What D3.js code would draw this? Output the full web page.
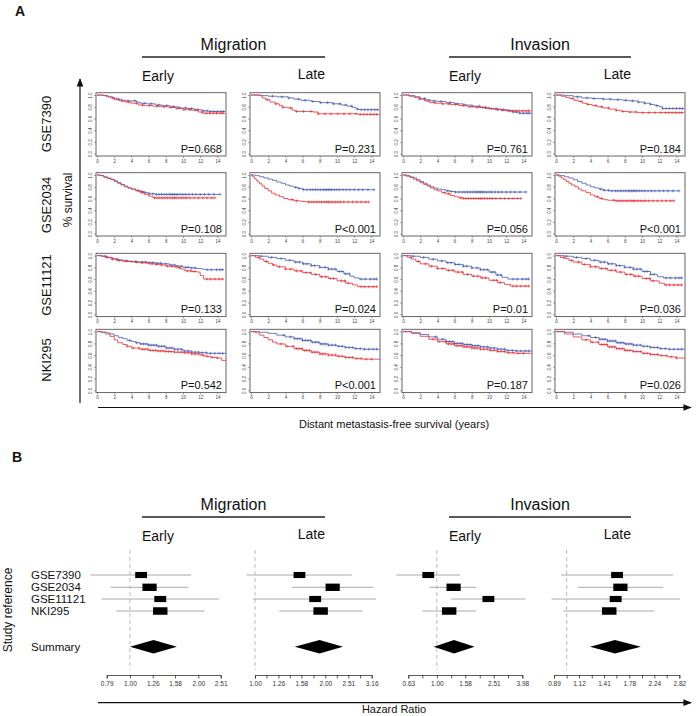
<!DOCTYPE html>
<html><head><meta charset="utf-8">
<script src="https://cdn.jsdelivr.net/npm/d3@7"></script>
<style>body{margin:0;background:#fff} svg{display:block;font-family:"Liberation Sans",Arial,sans-serif}</style>
</head><body><svg id="c" width="696" height="716"></svg>
<script>
// ---------------- DATA ----------------
const studies = ["GSE7390", "GSE2034", "GSE11121", "NKI295"];
const studySizes = [198, 286, 200, 295];
const assays = ["Migration", "Invasion"];
const phases = ["Early", "Late", "Early", "Late"];
const pValues = [
  ["P=0.668", "P=0.231", "P=0.761", "P=0.184"],
  ["P=0.108", "P<0.001", "P=0.056", "P<0.001"],
  ["P=0.133", "P=0.024", "P=0.01", "P=0.036"],
  ["P=0.542", "P<0.001", "P=0.187", "P=0.026"]
];
const kmXTicks = [0, 2, 4, 6, 8, 10, 12, 14];
const kmYTicks = [0, 0.2, 0.4, 0.6, 0.8, 1.0];
// survival step points [time (years), survival]
const kmBlue = [
  [
    [[0,1],[0.8,0.99],[1.3,0.97],[1.8,0.95],[2.3,0.93],[2.9,0.91],[3.4,0.9],[4.6,0.88],[5.0,0.86],[5.8,0.85],[6.8,0.83],[7.6,0.82],[8.5,0.8],[9.5,0.78],[10.5,0.77],[11.3,0.75],[12.2,0.73],[13.0,0.72],[14.9,0.72]],
    [[0,1],[1.2,0.99],[2.0,0.98],[3.0,0.97],[4.3,0.95],[5.0,0.93],[5.8,0.91],[7.0,0.89],[8.0,0.87],[9.5,0.85],[10.5,0.83],[11.2,0.81],[11.8,0.79],[12.2,0.76],[12.6,0.75],[14.9,0.75]],
    [[0,1],[0.8,0.99],[1.4,0.97],[2.0,0.94],[2.6,0.92],[3.2,0.9],[4.0,0.89],[5.0,0.87],[6.0,0.85],[7.0,0.83],[8.0,0.81],[9.0,0.79],[10.0,0.77],[11.0,0.75],[12.0,0.73],[12.8,0.71],[13.5,0.69],[14.9,0.69]],
    [[0,1],[1.0,0.99],[2.0,0.97],[3.0,0.95],[4.2,0.94],[5.5,0.93],[6.5,0.92],[7.8,0.91],[8.5,0.9],[9.5,0.88],[10.3,0.86],[11.0,0.84],[11.5,0.82],[12.0,0.8],[12.4,0.77],[14.9,0.77]]
  ],
  [
    [[0,1],[0.4,0.99],[0.8,0.97],[1.2,0.95],[1.6,0.93],[2.0,0.9],[2.4,0.87],[2.8,0.84],[3.2,0.81],[3.6,0.78],[4.0,0.76],[4.5,0.74],[5.0,0.72],[5.5,0.7],[6.0,0.68],[6.8,0.67],[14.3,0.67]],
    [[0,1],[0.5,0.99],[1.0,0.97],[1.5,0.95],[2.0,0.93],[2.5,0.91],[3.0,0.88],[3.5,0.86],[4.0,0.83],[4.5,0.81],[5.0,0.79],[5.5,0.77],[6.0,0.75],[14.3,0.75]],
    [[0,1],[0.4,0.99],[0.8,0.97],[1.2,0.95],[1.6,0.92],[2.0,0.89],[2.4,0.86],[2.8,0.83],[3.2,0.8],[3.6,0.78],[4.0,0.76],[4.5,0.75],[5.0,0.73],[5.5,0.72],[6.0,0.71],[14.3,0.71]],
    [[0,1],[0.5,0.99],[1.0,0.97],[1.5,0.95],[2.0,0.92],[2.5,0.89],[3.0,0.86],[3.5,0.83],[4.0,0.8],[4.5,0.78],[5.0,0.76],[5.5,0.74],[6.2,0.73],[14.3,0.73]]
  ],
  [
    [[0,1],[0.6,0.99],[1.2,0.97],[1.8,0.95],[2.4,0.93],[3.0,0.91],[3.8,0.9],[4.8,0.89],[5.8,0.88],[6.8,0.87],[7.6,0.86],[8.4,0.84],[9.2,0.82],[10.0,0.8],[10.8,0.79],[11.6,0.78],[12.2,0.77],[12.6,0.76],[14.7,0.76]],
    [[0,1],[1.0,0.99],[2.0,0.97],[3.0,0.95],[4.0,0.92],[5.0,0.89],[6.0,0.86],[7.0,0.83],[8.0,0.8],[9.0,0.77],[10.0,0.73],[10.8,0.69],[11.5,0.65],[12.0,0.62],[12.6,0.6],[14.7,0.6]],
    [[0,1],[1.0,0.99],[2.0,0.97],[3.0,0.94],[4.0,0.91],[5.0,0.88],[6.0,0.85],[7.0,0.82],[8.0,0.79],[9.0,0.76],[10.0,0.72],[10.8,0.67],[11.5,0.63],[12.2,0.6],[14.7,0.6]],
    [[0,1],[1.0,0.99],[2.0,0.97],[3.0,0.95],[4.0,0.92],[5.0,0.89],[6.0,0.86],[7.0,0.83],[8.0,0.8],[9.0,0.77],[10.0,0.73],[11.0,0.68],[11.8,0.64],[12.5,0.62],[14.7,0.62]]
  ],
  [
    [[0,1],[0.5,0.99],[1.0,0.98],[1.5,0.96],[2.0,0.93],[2.5,0.9],[3.0,0.88],[3.5,0.85],[4.0,0.83],[4.5,0.81],[5.0,0.79],[6.0,0.77],[7.0,0.75],[8.0,0.72],[9.0,0.7],[10.0,0.67],[11.0,0.65],[12.0,0.64],[12.8,0.63],[15.0,0.63]],
    [[0,1],[1.0,0.99],[2.0,0.97],[3.0,0.94],[4.0,0.91],[5.0,0.88],[6.0,0.85],[7.0,0.82],[8.0,0.79],[9.0,0.77],[10.0,0.75],[11.0,0.73],[12.0,0.71],[13.0,0.7],[15.0,0.7]],
    [[0,1],[1.0,0.98],[2.0,0.95],[3.0,0.91],[4.0,0.87],[5.0,0.83],[6.0,0.8],[7.0,0.78],[8.0,0.76],[9.0,0.74],[10.0,0.72],[11.0,0.7],[12.0,0.68],[13.0,0.67],[15.0,0.67]],
    [[0,1],[1.0,0.99],[2.0,0.96],[3.0,0.93],[4.0,0.9],[5.0,0.87],[6.0,0.84],[7.0,0.81],[8.0,0.79],[9.0,0.77],[10.0,0.75],[11.0,0.73],[12.0,0.71],[13.0,0.7],[15.0,0.7]]
  ]
];
const kmRed = [
  [
    [[0,1],[0.6,0.99],[1.1,0.97],[1.6,0.95],[2.0,0.92],[2.6,0.9],[3.2,0.88],[4.0,0.86],[4.8,0.83],[5.4,0.82],[6.5,0.81],[7.5,0.8],[8.3,0.79],[9.2,0.77],[10.0,0.75],[11.0,0.74],[11.8,0.71],[12.3,0.69],[14.9,0.69]],
    [[0,1],[0.9,0.99],[1.3,0.95],[1.7,0.92],[2.2,0.88],[2.8,0.85],[3.3,0.82],[3.7,0.79],[4.3,0.78],[4.8,0.74],[5.2,0.72],[7.2,0.71],[7.8,0.68],[12.3,0.68],[12.5,0.67],[14.9,0.67]],
    [[0,1],[0.7,0.98],[1.3,0.96],[1.9,0.93],[2.5,0.9],[3.1,0.87],[3.8,0.86],[4.6,0.85],[5.5,0.84],[6.5,0.82],[7.5,0.8],[8.5,0.79],[9.5,0.77],[10.5,0.76],[11.5,0.74],[12.5,0.73],[14.9,0.73]],
    [[0,1],[0.6,0.98],[1.1,0.96],[1.6,0.94],[2.1,0.91],[2.6,0.89],[3.1,0.86],[3.6,0.84],[4.2,0.82],[4.8,0.8],[5.4,0.78],[6.2,0.76],[7.0,0.74],[7.6,0.72],[8.4,0.71],[9.5,0.7],[14.9,0.7]]
  ],
  [
    [[0,1],[0.4,0.99],[0.8,0.96],[1.2,0.94],[1.6,0.92],[2.0,0.89],[2.4,0.86],[2.8,0.83],[3.2,0.8],[3.6,0.78],[4.0,0.76],[4.5,0.73],[5.0,0.7],[5.5,0.67],[6.0,0.64],[6.5,0.61],[13.7,0.61]],
    [[0,1],[0.2,0.97],[0.4,0.94],[0.6,0.91],[0.8,0.88],[1.0,0.85],[1.3,0.81],[1.6,0.77],[2.0,0.73],[2.4,0.69],[2.8,0.66],[3.3,0.63],[3.8,0.6],[4.3,0.58],[5.0,0.56],[5.8,0.55],[6.5,0.54],[13.7,0.54]],
    [[0,1],[0.4,0.98],[0.8,0.96],[1.2,0.93],[1.6,0.9],[2.0,0.87],[2.4,0.84],[2.8,0.81],[3.2,0.78],[3.6,0.75],[4.0,0.73],[4.5,0.7],[5.0,0.68],[5.5,0.65],[6.0,0.63],[6.5,0.61],[7.0,0.6],[13.7,0.6]],
    [[0,1],[0.3,0.98],[0.6,0.95],[0.9,0.92],[1.2,0.89],[1.5,0.86],[1.8,0.83],[2.2,0.8],[2.6,0.76],[3.0,0.73],[3.5,0.7],[4.0,0.66],[4.5,0.63],[5.0,0.6],[5.5,0.58],[6.0,0.57],[7.0,0.56],[13.7,0.56]]
  ],
  [
    [[0,1],[0.5,0.99],[1.0,0.97],[1.6,0.94],[2.2,0.92],[2.8,0.91],[3.4,0.9],[4.2,0.89],[5.0,0.88],[6.0,0.86],[6.8,0.85],[7.4,0.84],[8.0,0.82],[8.8,0.81],[9.4,0.79],[9.8,0.77],[10.2,0.74],[11.0,0.73],[11.6,0.72],[12.0,0.66],[12.4,0.6],[14.7,0.6]],
    [[0,1],[0.5,0.97],[1.0,0.94],[1.5,0.9],[2.0,0.87],[2.5,0.84],[3.0,0.81],[4.0,0.77],[5.0,0.74],[6.0,0.71],[7.0,0.68],[8.0,0.64],[9.0,0.61],[10.0,0.57],[11.0,0.53],[11.8,0.5],[12.4,0.47],[14.7,0.47]],
    [[0,1],[0.5,0.97],[1.0,0.94],[1.5,0.9],[2.0,0.86],[3.0,0.82],[4.0,0.78],[5.0,0.75],[6.0,0.72],[7.0,0.68],[8.0,0.65],[9.0,0.62],[10.0,0.58],[11.0,0.54],[11.8,0.51],[12.5,0.48],[14.7,0.48]],
    [[0,1],[0.5,0.97],[1.0,0.95],[1.5,0.92],[2.0,0.89],[3.0,0.85],[4.0,0.81],[5.0,0.78],[6.0,0.75],[7.0,0.72],[8.0,0.68],[9.0,0.65],[10.0,0.61],[11.0,0.57],[12.0,0.53],[12.6,0.5],[14.7,0.5]]
  ],
  [
    [[0,1],[0.5,0.99],[1.0,0.96],[1.5,0.92],[2.0,0.86],[2.4,0.81],[3.0,0.78],[3.5,0.75],[4.0,0.72],[5.0,0.7],[6.0,0.68],[7.0,0.67],[8.0,0.66],[9.0,0.65],[10.0,0.64],[11.0,0.62],[12.0,0.6],[12.5,0.58],[13.2,0.56],[14.0,0.55],[14.5,0.51],[15.0,0.51]],
    [[0,1],[0.5,0.98],[1.0,0.94],[1.5,0.9],[2.0,0.86],[2.5,0.82],[3.0,0.79],[4.0,0.75],[5.0,0.71],[6.0,0.68],[7.0,0.65],[8.0,0.62],[9.0,0.6],[10.0,0.58],[11.0,0.56],[12.0,0.54],[13.0,0.53],[15.0,0.53]],
    [[0,1],[1.0,0.97],[2.0,0.92],[3.0,0.87],[4.0,0.83],[5.0,0.79],[6.0,0.76],[7.0,0.74],[8.0,0.72],[9.0,0.7],[10.0,0.68],[11.0,0.66],[12.0,0.64],[13.0,0.63],[15.0,0.63]],
    [[0,1],[1.0,0.96],[2.0,0.91],[3.0,0.86],[4.0,0.82],[5.0,0.78],[6.0,0.74],[7.0,0.71],[8.0,0.68],[9.0,0.66],[10.0,0.63],[11.0,0.61],[12.0,0.59],[13.0,0.57],[14.0,0.55],[15.0,0.55]]
  ]
];
// censoring times per study (years)
const censorBlue = [
  [2.5,3.6,4.4,5.5,6.3,7.2,8.1,8.9,9.6,10.3,11.0,11.7,12.4,12.8,13.2,13.6,14.0,14.4,14.7],
  [5.2,5.6,6.1,6.5,6.9,7.2,7.5,7.8,8.1,8.4,8.6,8.8,9.0,9.2,9.4,9.7,10.0,10.3,10.7,11.1,11.5,12.0,12.5,13.0,13.6,14.3],
  [1.2,2.4,3.5,4.5,5.2,5.6,6.1,6.5,7.0,7.4,8.0,8.6,9.0,9.4,9.8,10.3,10.6,11.0,11.4,12.8,13.3,13.9,14.3,14.6],
  [3.8,4.6,5.1,5.4,5.7,6.0,6.3,6.6,6.9,7.2,7.5,7.8,8.1,8.4,8.7,9.0,9.4,9.8,10.2,10.6,11.0,11.4,11.8,12.2,12.7,13.2,13.7,14.2,14.6]
];
const censorRed = [
  [1.9,2.9,3.7,4.6,5.3,6.1,7.0,7.8,8.6,9.3,10.1,10.8,11.5,12.2,12.7,13.1,13.5,13.9,14.3,14.6],
  [4.8,5.3,6.7,7.0,7.3,7.6,7.9,8.2,8.5,8.8,9.0,9.2,9.5,9.8,10.1,10.4,10.8,11.3,11.8,12.3,12.8,13.3,13.7],
  [0.9,1.8,2.6,3.3,4.0,4.6,5.3,5.8,6.4,6.9,7.5,8.2,8.7,9.2,9.6,10.5,10.9,11.3,12.8,13.2,13.7,14.2,14.6],
  [3.5,4.2,4.9,5.3,5.6,5.9,6.2,6.5,6.8,7.1,7.4,7.7,8.0,8.3,8.6,9.0,9.4,9.8,10.2,10.6,11.0,11.4,11.8,12.3,12.8,13.4,14.0]
];
// forest plot: hazard ratios per column, one value per study
const hrValues = [
  [1.12, 1.22, 1.36, 1.36],
  [1.55, 2.15, 1.81, 1.91],
  [0.87, 1.31, 2.30, 1.22],
  [1.59, 1.64, 1.57, 1.48]
];
const hrLower = [
  [0.67, 0.82, 0.75, 0.87],
  [0.92, 1.44, 0.98, 1.27],
  [0.52, 0.89, 1.26, 0.79],
  [0.95, 1.11, 0.87, 0.97]
];
const hrUpper = [
  [1.86, 1.81, 2.47, 2.13],
  [2.60, 3.21, 3.30, 2.89],
  [1.46, 1.89, 4.19, 1.89],
  [2.66, 2.43, 2.84, 2.24]
];
const summaryHR = [[1.27, 1.00, 1.61], [1.89, 1.48, 2.38], [1.32, 0.95, 1.84], [1.56, 1.24, 1.98]];
const forestTicks = [
  [0.79, 1.00, 1.26, 1.58, 2.00, 2.51],
  [1.00, 1.12, 1.26, 1.41, 1.58, 1.78, 2.00, 2.24, 2.51, 2.82, 3.16],
  [0.63, 0.79, 1.00, 1.26, 1.58, 2.00, 2.51, 3.16, 3.98],
  [0.89, 1.00, 1.12, 1.26, 1.41, 1.58, 1.78, 2.00, 2.24, 2.51, 2.82]
];
const forestLabels = [
  ["0.79", "1.00", "1.26", "1.58", "2.00", "2.51"],
  ["1.00", "1.26", "1.58", "2.00", "2.51", "3.16"],
  ["0.63", "1.00", "1.58", "2.51", "3.98"],
  ["0.89", "1.12", "1.41", "1.78", "2.24", "2.82"]
];

// ---------------- LAYOUT ----------------
const svg = d3.select("#c");
const BLUE = "#4a5db5", RED = "#e8323b";
const colX = [96, 250, 402, 555], boxW = 130;
const rowY = [92.7, 172.7, 253.3, 329.3], boxH = 63.3;

svg.append("defs").append("marker").attr("id", "ah").attr("viewBox", "0 0 10 10")
  .attr("refX", 9).attr("refY", 5).attr("markerWidth", 7).attr("markerHeight", 7)
  .attr("orient", "auto").append("path").attr("d", "M0,1 L10,5 L0,9 Z").attr("fill", "#111");

function txt(x, y, s, size, opts = {}) {
  const t = svg.append("text").attr("x", x).attr("y", y).text(s)
    .attr("font-size", size).attr("fill", opts.fill || "#111")
    .attr("text-anchor", opts.anchor || "start");
  if (opts.weight) t.attr("font-weight", opts.weight);
  if (opts.rotate) t.attr("transform", `rotate(-90,${x},${y})`);
  return t;
}

function headers(yTop) {
  txt(233.5, yTop, assays[0], 16, {anchor: "middle"});
  txt(540, yTop, assays[1], 16, {anchor: "middle"});
  svg.append("line").attr("x1", 142).attr("x2", 325).attr("y1", yTop + 7).attr("y2", yTop + 7).attr("stroke", "#222").attr("stroke-width", 1.3);
  svg.append("line").attr("x1", 449).attr("x2", 631).attr("y1", yTop + 7).attr("y2", yTop + 7).attr("stroke", "#222").attr("stroke-width", 1.3);
  txt(142, yTop + 31, phases[0], 14);
  txt(325, yTop + 29, phases[1], 14, {anchor: "end"});
  txt(449, yTop + 31, phases[2], 14);
  txt(631, yTop + 29, phases[3], 14, {anchor: "end"});
}

txt(15, 16, "A", 14, {weight: "bold"});
headers(50);

const rowLabelY = [124, 205, 285, 360];
studies.forEach((s, i) => txt(51, rowLabelY[i], s, 13, {anchor: "middle", rotate: true}));
txt(72, 200, "% survival", 12, {anchor: "middle", rotate: true});
svg.append("line").attr("x1", 80).attr("x2", 80).attr("y1", 403).attr("y2", 79)
  .attr("stroke", "#111").attr("stroke-width", 1.2).attr("marker-end", "url(#ah)");
svg.append("line").attr("x1", 98).attr("x2", 691).attr("y1", 407.5).attr("y2", 407.5)
  .attr("stroke", "#111").attr("stroke-width", 1.2).attr("marker-end", "url(#ah)");
txt(394, 428, "Distant metastasis-free survival (years)", 11, {anchor: "middle"});

function survAt(steps, t) {
  let s = 1;
  for (const p of steps) { if (p[0] <= t) s = p[1]; else break; }
  return s;
}
for (let r = 0; r < 4; r++) {
  for (let c = 0; c < 4; c++) {
    const L = colX[c], T = rowY[r];
    const x = d3.scaleLinear().domain([0, 15]).range([L + 1, L + boxW]);
    const y = d3.scaleLinear().domain([-0.04, 1.04]).range([T + boxH, T]);
    const g = svg.append("g");
    const xa = g.append("g").attr("transform", `translate(0,${T + boxH})`)
      .call(d3.axisBottom(x).tickValues(kmXTicks).tickSize(2).tickPadding(1.5));
    const ya = g.append("g").attr("transform", `translate(${L},0)`)
      .call(d3.axisLeft(y).tickValues(kmYTicks).tickSize(2).tickPadding(1.5).tickFormat(d3.format(".1f")));
    [xa, ya].forEach(a => {
      a.select(".domain").remove();
      a.selectAll("line").attr("stroke", "#555").attr("stroke-width", 0.5);
      a.selectAll("text").attr("font-size", 4.5).attr("fill", "#444").attr("font-family", "Liberation Sans, Arial");
    });
    ya.selectAll("text").attr("text-anchor", "middle").attr("dy", 0)
      .attr("x", 0).attr("y", -3.8).attr("transform", "rotate(-90)");
    g.append("rect").attr("x", L).attr("y", T).attr("width", boxW).attr("height", boxH)
      .attr("fill", "none").attr("stroke", "#555").attr("stroke-width", 0.9);
    const line = d3.line().x(d => x(d[0])).y(d => y(d[1])).curve(d3.curveStepAfter);
    [[kmBlue[r][c], censorBlue[r], BLUE], [kmRed[r][c], censorRed[r], RED]].forEach(([steps, cens, col]) => {
      g.append("path").attr("d", line(steps)).attr("fill", "none").attr("stroke", col).attr("stroke-width", 0.8);
      const tEnd = steps[steps.length - 1][0];
      cens.filter(t => t <= tEnd).forEach(t => {
        const cx = x(t), cy = y(survAt(steps, t));
        g.append("path").attr("d", `M${cx - 1.5},${cy}H${cx + 1.5}M${cx},${cy - 1.5}V${cy + 1.5}`)
          .attr("stroke", col).attr("stroke-width", 0.6);
      });
    });
    txt(L + boxW - 4, T + boxH - 3.5, pValues[r][c], 11, {anchor: "end"});
  }
}

// ---------------- PANEL B ----------------
txt(12, 462, "B", 14, {weight: "bold"});
headers(510);
const fRowY = [575, 587.3, 599, 611];
const sumY = 646.7;
studies.forEach((s, i) => txt(31, fRowY[i] + 4, s, 11.5));
txt(31, sumY + 4, "Summary", 11.5);
txt(12, 610, "Study reference", 12, {anchor: "middle", rotate: true});

const fRange = [[106.7, 220.7], [255, 371.7], [408.3, 522.3], [554, 679.3]];
const axisY = 675;
for (let c = 0; c < 4; c++) {
  const tk = forestTicks[c];
  const x = d3.scaleLog().domain([tk[0], tk[tk.length - 1]]).range(fRange[c]);
  const g = svg.append("g");
  g.append("line").attr("x1", x(1)).attr("x2", x(1)).attr("y1", 550).attr("y2", 670)
    .attr("stroke", "#bbb").attr("stroke-width", 1).attr("stroke-dasharray", "4,3");
  for (let i = 0; i < 4; i++) {
    g.append("line").attr("x1", x(hrLower[c][i])).attr("x2", x(hrUpper[c][i]))
      .attr("y1", fRowY[i]).attr("y2", fRowY[i]).attr("stroke", "#aaa").attr("stroke-width", 1);
  }
  for (let i = 0; i < 4; i++) {
    const w = Math.sqrt(studySizes[i]) * 0.84, h = w * 0.52;
    g.append("rect").attr("x", x(hrValues[c][i]) - w / 2).attr("y", fRowY[i] - h / 2)
      .attr("width", w).attr("height", h).attr("fill", "#000");
  }
  const [m, lo, hi] = summaryHR[c];
  g.append("path").attr("d", `M${x(lo)},${sumY}L${x(m)},${sumY - 6.7}L${x(hi)},${sumY}L${x(m)},${sumY + 6.7}Z`).attr("fill", "#000");
  const ax = g.append("g").attr("transform", `translate(0,${axisY})`)
    .call(d3.axisBottom(x).tickValues(tk).tickSize(3.5).tickPadding(3)
      .tickFormat(d => { const s = d.toFixed(2); return forestLabels[c].includes(s) ? s : ""; }));
  ax.select(".domain").attr("stroke", "#333").attr("stroke-width", 0.8);
  ax.selectAll("line").attr("stroke", "#333").attr("stroke-width", 0.8);
  ax.selectAll("text").attr("font-size", 6.5).attr("fill", "#333").attr("font-family", "Liberation Sans, Arial");
}
svg.append("line").attr("x1", 98).attr("x2", 691).attr("y1", 702.7).attr("y2", 702.7)
  .attr("stroke", "#111").attr("stroke-width", 1.2).attr("marker-end", "url(#ah)");
txt(394, 713, "Hazard Ratio", 11, {anchor: "middle"});
</script></body></html>
